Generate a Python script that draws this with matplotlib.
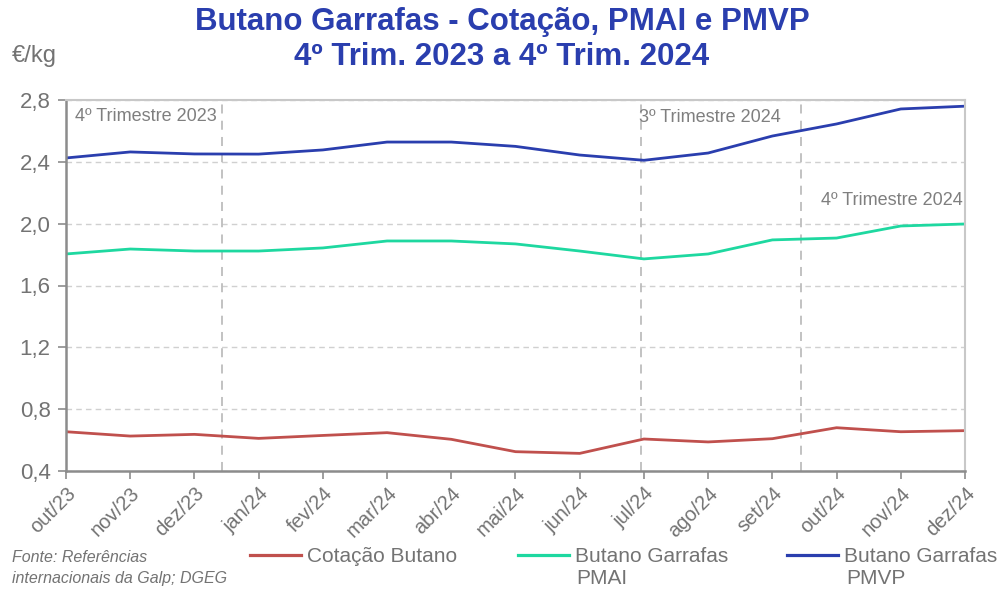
import matplotlib
matplotlib.use("Agg")
import matplotlib.pyplot as plt
from matplotlib.lines import Line2D

plt.rcParams['font.family'] = ['Liberation Sans', 'DejaVu Sans']

months = ["out/23", "nov/23", "dez/23", "jan/24", "fev/24", "mar/24", "abr/24",
          "mai/24", "jun/24", "jul/24", "ago/24", "set/24", "out/24", "nov/24", "dez/24"]
cotacao = [0.654, 0.626, 0.637, 0.611, 0.630, 0.648, 0.605, 0.525, 0.514, 0.607,
           0.588, 0.609, 0.680, 0.654, 0.661]
pmai = [1.804, 1.836, 1.823, 1.823, 1.843, 1.888, 1.888, 1.869, 1.823, 1.772,
        1.804, 1.895, 1.907, 1.985, 1.998]
pmvp = [2.425, 2.464, 2.451, 2.450, 2.477, 2.528, 2.528, 2.500, 2.444, 2.410,
        2.457, 2.567, 2.645, 2.742, 2.760]
yticks = [0.4, 0.8, 1.2, 1.6, 2.0, 2.4, 2.8]
ytick_labels = ["0,4", "0,8", "1,2", "1,6", "2,0", "2,4", "2,8"]
quarter_lines = [2.43, 8.96, 11.45]
quarter_labels = ["4º Trimestre 2023", "3º Trimestre 2024", "4º Trimestre 2024"]

c_red = "#C0504D"
c_green = "#1ED8A0"
c_blue = "#2A3EAE"
c_gray = "#7F7F7F"
c_text = "#737373"

fig = plt.figure(figsize=(10.04, 5.92), dpi=100)
ax = fig.add_axes([66/1004, 1-471/592, (965-66)/1004, (471-100)/592])

x = list(range(len(months)))
ax.plot(x, cotacao, color=c_red, lw=2.0)
ax.plot(x, pmai, color=c_green, lw=2.0)
ax.plot(x, pmvp, color=c_blue, lw=2.0)

ax.set_xlim(0, len(months)-1)
ax.set_ylim(0.4, 2.8)
ax.set_yticks(yticks)
ax.set_yticklabels(ytick_labels)
ax.set_xticks(x)
ax.set_xticklabels(months, rotation=45, ha='right', rotation_mode='anchor')

ax.grid(axis='y', color='#D0D0D0', linestyle=(0, (4, 3)), lw=1.0)
ax.set_axisbelow(True)
for q in quarter_lines:
    ax.axvline(q, color='#BDBDBD', linestyle=(0, (5, 4)), lw=1.3, zorder=1)

ax.text(0.14, 2.695, quarter_labels[0], color=c_gray, fontsize=13, va='center', ha='left')
ax.text(8.93, 2.69, quarter_labels[1], color=c_gray, fontsize=13, va='center', ha='left')
ax.text(13.97, 2.15, quarter_labels[2], color=c_gray, fontsize=13, va='center', ha='right')

for s in ['top', 'right']:
    ax.spines[s].set_color('#C8C8C8')
    ax.spines[s].set_linewidth(1.5)
ax.spines['left'].set_color('#8C8C8C')
ax.spines['left'].set_linewidth(1.8)
ax.spines['bottom'].set_color('#8C8C8C')
ax.spines['bottom'].set_linewidth(1.8)
ax.tick_params(axis='both', colors='#8C8C8C', labelcolor=c_text, labelsize=16,
               length=6, width=1.2, direction='out')
ax.tick_params(axis='x', labelsize=14.5, pad=3)
ax.tick_params(axis='y', pad=5)

fig.text(0.5, 1-22/592, "Butano Garrafas - Cotação, PMAI e PMVP", ha='center', va='center',
         fontsize=22.5, fontweight='bold', color=c_blue)
fig.text(0.5, 1-57/592, "4º Trim. 2023 a 4º Trim. 2024",
         ha='center', va='center', fontsize=22.5, fontweight='bold', color=c_blue)
fig.text(12/1004, 1-56/592, "€/kg", ha='left', va='center', fontsize=17, color=c_text)

fig.text(12/1004, 1-557/592, "Fonte: Referências", ha='left', va='center', fontsize=11.5,
         style='italic', color=c_text)
fig.text(12/1004, 1-578/592, "internacionais da Galp; DGEG", ha='left', va='center', fontsize=11.5,
         style='italic', color=c_text)

handles = [Line2D([], [], color=c_red, lw=2.3),
           Line2D([], [], color=c_green, lw=2.3),
           Line2D([], [], color=c_blue, lw=2.3)]
labels = ["Cotação Butano", "Butano Garrafas", "Butano Garrafas"]
leg_x = [250, 518, 787]
for h, l, lx in zip(handles, labels, leg_x):
    lg = fig.legend([h], [l], loc='center left', bbox_to_anchor=(lx/1004, 1-557/592),
                    frameon=False, fontsize=15, handlelength=2.45, handletextpad=0.3,
                    borderpad=0, borderaxespad=0)
    for t in lg.get_texts():
        t.set_color(c_text)
fig.text(576/1004, 1-579/592, "PMAI", ha='left', va='center', fontsize=15, color=c_text)
fig.text(846/1004, 1-579/592, "PMVP", ha='left', va='center', fontsize=15, color=c_text)

fig.savefig("out.png", dpi=100)
